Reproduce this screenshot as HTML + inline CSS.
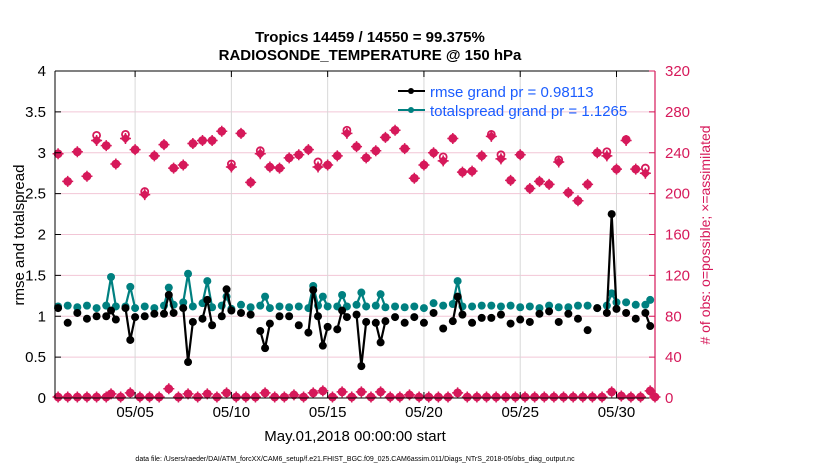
<!DOCTYPE html>
<html><head><meta charset="utf-8"><style>
body{margin:0;background:#fff;}
svg{display:block;font-family:"Liberation Sans",sans-serif;}
</style></head><body>
<svg id="chart" width="830" height="470" viewBox="0 0 830 470" xmlns="http://www.w3.org/2000/svg">
<rect width="830" height="470" fill="#fff"/>
<text x="370" y="42" text-anchor="middle" font-size="15" font-weight="bold">Tropics 14459 / 14550 = 99.375%</text>
<text x="370" y="60" text-anchor="middle" font-size="15" font-weight="bold">RADIOSONDE_TEMPERATURE @ 150 hPa</text>
<g id="grid"></g>
<g id="marks"></g>
<g id="axes"></g>
<text transform="translate(24,235) rotate(-90)" text-anchor="middle" font-size="15">rmse and totalspread</text>
<text transform="translate(710,235) rotate(-90)" text-anchor="middle" font-size="14" fill="#d6195a">#  of obs: o=possible; ×=assimilated</text>
<text x="355" y="441" text-anchor="middle" font-size="15">May.01,2018 00:00:00 start</text>
<text x="355" y="461" text-anchor="middle" font-size="7">data file: /Users/raeder/DAI/ATM_forcXX/CAM6_setup/f.e21.FHIST_BGC.f09_025.CAM6assim.011/Diags_NTrS_2018-05/obs_diag_output.nc</text>
<g>
<line x1="398" y1="91" x2="425" y2="91" stroke="#000" stroke-width="2"/><circle cx="411" cy="91" r="3" fill="#000"/>
<text x="430" y="97" font-size="15" fill="#1a5cff">rmse grand pr = 0.98113</text>
<line x1="398" y1="110" x2="425" y2="110" stroke="#008080" stroke-width="2"/><circle cx="411" cy="110" r="3" fill="#008080"/>
<text x="430" y="116" font-size="15" fill="#1a5cff">totalspread grand pr = 1.1265</text>
</g>
</svg>
<script>
const rmseDays=[0,0.5,1,1.5,2,2.5,2.75,3,3.5,3.75,4,4.5,5,5.5,5.75,6,6.5,6.75,7,7.5,7.75,8,8.5,8.75,9,9.5,10,10.5,10.75,11,11.5,12,12.5,13,13.25,13.5,13.75,14,14.5,14.75,15,15.5,15.75,16,16.5,16.75,17,17.5,18,18.5,19,19.5,20,20.5,20.75,21,21.5,22,22.5,23,23.5,24,24.5,25,25.5,26,26.5,27,27.5,28,28.5,28.75,29,29.5,30,30.5,30.75];
const rmseVals=[1.10,0.92,1.04,0.97,1.0,1.0,1.07,0.96,1.1,0.71,0.99,1.0,1.03,1.03,1.26,1.04,1.1,0.44,0.93,0.97,1.2,0.89,1.0,1.33,1.07,1.04,1.02,0.82,0.61,0.91,1.0,1.0,0.89,0.80,1.32,1.0,0.64,0.87,0.84,1.07,0.99,1.02,0.39,0.93,0.92,0.68,0.94,0.99,0.92,0.99,0.92,1.04,0.85,0.94,1.24,1.02,0.92,0.98,0.98,1.02,0.91,0.96,0.93,1.03,1.06,0.93,1.03,0.97,0.83,1.10,1.04,2.25,1.09,1.04,0.97,1.04,0.88];
const spreadVals=[1.12,1.13,1.11,1.13,1.10,1.13,1.48,1.12,1.12,1.36,1.1,1.12,1.1,1.13,1.35,1.14,1.17,1.52,1.12,1.16,1.43,1.11,1.13,1.24,1.09,1.14,1.11,1.13,1.24,1.1,1.12,1.11,1.12,1.1,1.37,1.13,1.24,1.12,1.12,1.26,1.12,1.14,1.29,1.12,1.13,1.27,1.11,1.12,1.11,1.12,1.1,1.16,1.13,1.15,1.43,1.12,1.12,1.13,1.13,1.12,1.13,1.11,1.12,1.1,1.13,1.11,1.11,1.13,1.13,1.1,1.13,1.28,1.17,1.17,1.14,1.14,1.2];
const obsDays=[0,0.5,1,1.5,2,2.5,3,3.5,4,4.5,5,5.5,6,6.5,7,7.5,8,8.5,9,9.5,10,10.5,11,11.5,12,12.5,13,13.5,14,14.5,15,15.5,16,16.5,17,17.5,18,18.5,19,19.5,20,20.5,21,21.5,22,22.5,23,23.5,24,24.5,25,25.5,26,26.5,27,27.5,28,28.5,29,29.5,30,30.5];
const assimVals=[239,212,241,217,252,247,229,254,243,199,237,248,225,228,249,252,252,261,226,259,211,239,226,225,235,238,243,226,228,237,259,246,235,242,255,262,244,215,228,240,232,254,221,222,237,256,234,213,238,205,212,209,231,201,193,209,240,237,224,252,224,220];
const possVals=[239,212,241,217,257,247,229,258,243,202,237,248,225,228,249,252,252,261,229,259,211,242,226,225,235,238,243,231,228,237,262,246,235,242,255,262,244,215,228,240,236,254,221,222,237,258,238,213,238,205,212,209,233,201,193,209,240,241,224,253,224,225];
const lowDays=[0,0.5,1,1.5,2,2.5,2.75,3.25,3.75,4.25,4.75,5.25,5.75,6.25,6.75,7.25,7.75,8.25,8.75,9.25,9.75,10.25,10.75,11.25,11.75,12.25,12.75,13.25,13.75,14.25,14.75,15.25,15.75,16.25,16.75,17.25,17.75,18.25,18.75,19.25,19.75,20.25,20.75,21.25,21.75,22.25,22.75,23.25,23.75,24.25,24.75,25.25,25.75,26.25,26.75,27.25,27.75,28.25,28.75,29.25,29.75,30.25,30.75,31];
const lowVals=[1,1,1,1,1,1,4,1,5,1,1,1,9,1,4,1,4,1,5,1,1,1,5,1,1,3,1,5,7,1,6,1,6,1,6,1,1,3,1,1,1,1,5,1,1,1,1,1,1,1,1,1,1,1,1,1,1,1,6,2,1,1,7,1];
const leftTicks=[0,0.5,1,1.5,2,2.5,3,3.5,4];
const rightTicks=[0,40,80,120,160,200,240,280,320];
const dateTickDays=[4,9,14,19,24,29];
const dateTickLabels=["05/05","05/10","05/15","05/20","05/25","05/30"];

const X0=55,X1=655,Y0=398,Y1=71,DAY0=-0.16,DAY1=31.0;
const xS=d=>X0+(d-DAY0)/(DAY1-DAY0)*(X1-X0);
const yL=v=>Y0-v/4*(Y0-Y1);
const yR=v=>Y0-v/320*(Y0-Y1);
const NS="http://www.w3.org/2000/svg";
function mk(tag,attrs,parent){const e=document.createElementNS(NS,tag);for(const k in attrs)e.setAttribute(k,attrs[k]);parent.appendChild(e);return e;}
const grid=document.getElementById('grid'),marks=document.getElementById('marks'),axes=document.getElementById('axes');
const PINK="#d6195a";
leftTicks.forEach(t=>{if(t>0&&t<4){const l=mk('line',{x1:X0,x2:X1,y1:yL(t),y2:yL(t),stroke:"#f2c6d6","stroke-width":1},grid);

}});
dateTickDays.forEach(d=>{const l=mk('line',{x1:xS(d),x2:xS(d),y1:Y0,y2:Y1,stroke:"#d8d8d8","stroke-width":1},grid);

});
function series(days,vals,color,name){
  let seg=[];const segs=[];
  for(let i=0;i<days.length;i++){
    if(i>0&&days[i]-days[i-1]>0.3){segs.push(seg);seg=[];}
    seg.push([xS(days[i]),yL(vals[i])]);
  }
  segs.push(seg);
  segs.forEach(s=>{if(s.length>1){const p=mk('polyline',{points:s.map(q=>q.join(',')).join(' '),fill:'none',stroke:color,'stroke-width':2.2,'stroke-linejoin':'round'},marks);
  
  }});
  for(let i=0;i<days.length;i++){const c=mk('circle',{cx:xS(days[i]),cy:yL(vals[i]),r:4,fill:color},marks);
  
  }
}
function assimMark(d,v){const x=xS(d),y=yR(v);
  const g=mk('g',{},marks);
  
  
  mk('path',{d:`M${x-5},${y}L${x},${y-5}L${x+5},${y}L${x},${y+5}Z`,fill:PINK},g);
  mk('path',{d:`M${x-5.5},${y}H${x+5.5}M${x},${y-5.5}V${y+5.5}`,stroke:PINK,'stroke-width':1.5},g);
}
function possMark(d,v){const c=mk('circle',{cx:xS(d),cy:yR(v),r:3.5,fill:'none',stroke:PINK,'stroke-width':1.8},marks);
  
  }
for(let i=0;i<obsDays.length;i++){possMark(obsDays[i],possVals[i]);assimMark(obsDays[i],assimVals[i]);}
for(let i=0;i<lowDays.length;i++){possMark(lowDays[i],lowVals[i]);assimMark(lowDays[i],lowVals[i]);}
series(rmseDays,spreadVals,'#008080','totalspread');
series(rmseDays,rmseVals,'#000','rmse');
mk('line',{x1:X0,x2:X1,y1:Y1,y2:Y1,stroke:'#000','stroke-width':1},axes);
mk('line',{x1:X0,x2:X1,y1:Y0,y2:Y0,stroke:'#000','stroke-width':1},axes);
mk('line',{x1:X0,x2:X0,y1:Y0,y2:Y1,stroke:'#000','stroke-width':1},axes);
mk('line',{x1:X1,x2:X1,y1:Y0,y2:Y1,stroke:PINK,'stroke-width':1.2},axes);
leftTicks.forEach(t=>{mk('line',{x1:X0,x2:X0+6,y1:yL(t),y2:yL(t),stroke:'#000'},axes);
 const tx=mk('text',{x:X0-9,y:yL(t)+5,'text-anchor':'end','font-size':15},axes);tx.textContent=String(t);
 
 });
rightTicks.forEach(t=>{mk('line',{x1:X1-6,x2:X1,y1:yR(t),y2:yR(t),stroke:PINK},axes);
 const tx=mk('text',{x:X1+10,y:yR(t)+5,'font-size':15,fill:PINK},axes);tx.textContent=String(t);
 
 });
dateTickDays.forEach((d,i)=>{mk('line',{x1:xS(d),x2:xS(d),y1:Y0,y2:Y0-6,stroke:'#000'},axes);mk('line',{x1:xS(d),x2:xS(d),y1:Y1,y2:Y1+6,stroke:'#000'},axes);
 const tx=mk('text',{x:xS(d),y:Y0+19,'text-anchor':'middle','font-size':15},axes);tx.textContent=dateTickLabels[i];
 
 });
</script>
</body></html>
